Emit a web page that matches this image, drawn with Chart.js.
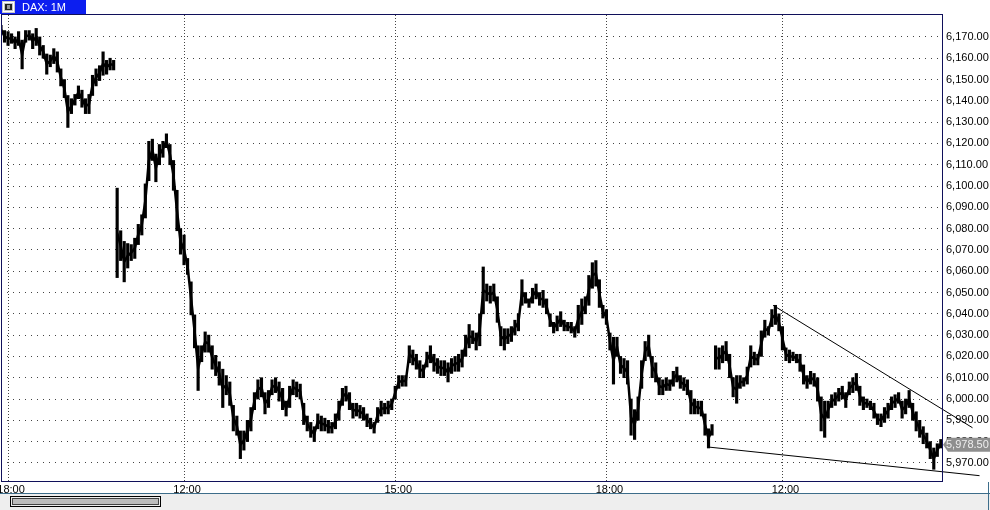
<!DOCTYPE html>
<html>
<head>
<meta charset="utf-8">
<script src="https://cdn.jsdelivr.net/npm/chart.js@4.4.0/dist/chart.umd.min.js"></script>
<style>
html,body{margin:0;padding:0;background:#fff;overflow:hidden}
canvas{display:block}
</style>
</head>
<body>
<canvas id="chart" width="990" height="510"></canvas>
<script>
// DAX 1 minute, sampled every 3 minutes as low/high ranges
var title = "DAX: 1M"
var firstBar = -2      // first sample index (x = index * barStep minutes after 18:00)
var barStep = 3

var highs = [
  // evening session
  6175.5,6173,6172.5,6171.5,6170,6172.5,6168.5,6173,6173,6171.5,6174,6170,6166,6162,6161.5,6164.5,6163,
  6155,6150,6142.5,6141,6143,6147,6145,6141,6143,6152,6155,6156.5,6163,6159,6160,6159,
  // next day
  6099,6079,6074,6073,6072.5,6075.5,6082,6086.5,6101,6121,6122,6115,6119.5,6121,6124.5,6119.5,6112,6098,
  6080,6077,6066,6055,6039.5,6025,6025,6031.5,6030,6025,6020.5,6017.5,6014,6011,6008,5997,5992,5985,5985,
  5990,5996,6003,6009,6010,6003,6004,6009,6010,6008,6005,5999,6006,6009,6008,6007,5998,5992,5989,5987,
  5993,5992,5991,5990,5989,5993,5999,6005,6006,6003,5998,5998,5997,5996,5993,5991,5989,5996,5999,5998,
  5999,6000,6006,6011,6011,6011,6025,6023,6021,6018,6016,6022,6025,6021,6019,6018,6018,6017,6019,6020,
  6021,6023,6030,6035,6032,6031,6040,6062,6054,6053,6054,6048,6034,6033,6033,6034,6037,6040,6056,6050,
  6047,6052,6054,6050,6051,6047,6040,6036,6039,6041,6037,6036,6036,6034,6044,6047,6048,6058,6064,6065,
  6056,6044,6042,6031,6029,6029,6020,6019,6018,6000,5995,6001,6018,6027,6030,6020,6017,6010,6009,6010,
  6009,6013,6015,6011,6010,6009,6004,6000,5999,5999,5993,5986,5988,
  // last day
  6025,6024,6025,6027,6021,6010,6011,6011,6010,6015,6025,6022,6021,6032,6037,6034,6042,6044,6040,6034,
  6024,6023,6022,6021,6021,6016,6011,6013,6012,6010,6001,5999,5999,6002,6003,6005,6006,6003,6008,6010,
  6012,6006,6001,6000,5999,5998,5993,5993,5996,5998,6001,6002,6003,5999,6000,6004,5998,5994,5990,5987,
  5984,5980,5977,5979,5981
]
var lows = [
  6171.5,6167.5,6166,6167,6164.5,6166,6155,6167.5,6168.5,6164.5,6166,6161.5,6160,6152.5,6156,6157.5,6153.5,
  6147,6141.5,6127.5,6134,6138,6141,6137,6134,6134,6142.5,6147,6149.5,6152,6152.5,6154.5,6154.5,
  6057,6065,6055,6061.5,6065,6066,6072.5,6077,6085,6102.5,6112,6102,6110,6113.5,6118,6110,6098,6079,
  6068,6063,6058.5,6039.5,6024,6004,6017.5,6022,6022,6014,6011,6006.5,5996,6002,5997,5985,5983,5972,5976,
  5980,5985,5995,6000,6001,5993,5996,6002,6003,5999,5995,5992,5996,6002,6001,6000,5988,5985,5982,5980,
  5986,5985,5985,5984,5984,5986,5990,5997,5999,5995,5991,5992,5991,5990,5987,5986,5984,5989,5992,5993,
  5993,5995,6000,6005,6006,6006,6017,6016,6014,6010,6010,6015,6017,6013,6012,6011,6011,6008,6012,6013,
  6013,6015,6020,6024,6026,6023,6025,6040,6046,6045,6046,6036,6025,6023,6026,6027,6030,6032,6044,6045,
  6043,6045,6047,6044,6043,6040,6034,6031,6032,6034,6032,6032,6031,6029,6031,6035,6040,6044,6052,6053,
  6043,6038,6035,6023,6007,6020,6012,6010,6007,5983,5981,5990,6005,6018,6020,6010,6008,6002,6002,6004,
  6004,6006,6008,6005,6004,6002,5993,5993,5993,5992,5983,5977,5983,
  6014,6014,6017,6018,6010,6001,5998,6005,6006,6007,6015,6016,6016,6020,6029,6030,6034,6035,6032,6023,
  6018,6017,6018,6017,6013,6007,6005,6007,6006,5999,5985,5982,5991,5996,5997,5999,6000,5996,6002,6003,
  6004,5997,5995,5996,5995,5991,5988,5987,5989,5991,5995,5996,5998,5991,5993,5996,5990,5985,5982,5979,
  5977,5972,5967,5973,5977
]
// where a new session opens (sample index), the price line is broken there
var sessionOpens = [31, 201]

var tickMinutes = [0, 150, 330, 510, 660]
var tickLabels = ["18:00", "12:00", "15:00", "18:00", "12:00"]
var priceTicks = [5970,5980,5990,6000,6010,6020,6030,6040,6050,6060,6070,6080,6090,6100,6110,6120,6130,6140,6150,6160,6170]

// hand drawn trend lines (minutes, price)
var upperLine = [{x: 652, y: 6044}, {x: 822, y: 5986.5}]
var lowerLine = [{x: 596, y: 5977.5}, {x: 828, y: 5964}]
var lastPrice = 5978.5

var bars = []
var mids = []
lows.forEach(function(lo, i){
  var idx = firstBar + i
  if(sessionOpens.includes(idx)) mids.push({x: idx * barStep - 1, y: null})
  bars.push({x: idx * barStep, y: [lo, highs[i]]})
  mids.push({x: idx * barStep, y: (lo + highs[i]) / 2})
})

function fmt(v){
  return v.toLocaleString("en-US", {minimumFractionDigits: 2, maximumFractionDigits: 2})
}

var frame = {
  id: "frame",
  beforeDraw: function(chart){
    var ctx = chart.ctx
    ctx.save()
    ctx.fillStyle = "#fff"
    ctx.fillRect(0, 0, 990, 510)
    // title tab
    ctx.fillStyle = "#0c1ef0"
    ctx.fillRect(0, 0, 86, 14)
    ctx.fillStyle = "#c8c8c8"
    ctx.fillRect(2, 1, 13, 12)
    ctx.strokeStyle = "#fff"
    ctx.strokeRect(3.5, 2.5, 10, 9)
    ctx.fillStyle = "#222"
    ctx.fillRect(5, 4, 7, 6)
    ctx.fillStyle = "#999"
    ctx.fillRect(7, 5, 3, 4)
    ctx.fillStyle = "#fff"
    ctx.font = "11px 'Liberation Sans'"
    ctx.textBaseline = "middle"
    ctx.fillText(title, 22, 7.5)
    // scroll bar strip
    ctx.fillStyle = "#eeeeee"
    ctx.fillRect(0, 494, 990, 16)
    ctx.strokeStyle = "#3d6d8a"
    ctx.beginPath()
    ctx.moveTo(0, 493.5); ctx.lineTo(990, 493.5)
    ctx.moveTo(988.5, 482); ctx.lineTo(988.5, 510)
    ctx.stroke()
    ctx.strokeStyle = "#000"
    ctx.strokeRect(10.5, 496.5, 150, 10)
    ctx.fillStyle = "#bdbdbd"
    ctx.fillRect(12, 498, 147, 7)
    ctx.strokeStyle = "#444"
    ctx.strokeRect(12.5, 498.5, 146, 6)
    ctx.restore()
  },
  afterDraw: function(chart){
    var ctx = chart.ctx
    var a = chart.chartArea
    var y = chart.scales.y.getPixelForValue(lastPrice)
    ctx.save()
    ctx.strokeStyle = "#10105a"
    ctx.lineWidth = 1
    ctx.strokeRect(a.left + 0.5, a.top - 0.5, a.right - a.left, a.bottom - a.top + 1)
    // last price marker
    ctx.fillStyle = "#8e8e8e"
    ctx.beginPath()
    ctx.moveTo(943, y)
    ctx.lineTo(948, y - 7)
    ctx.lineTo(990, y - 7)
    ctx.lineTo(990, y + 7)
    ctx.lineTo(948, y + 7)
    ctx.closePath()
    ctx.fill()
    ctx.fillStyle = "#eeeeee"
    ctx.font = "11px 'Liberation Sans'"
    ctx.textBaseline = "middle"
    ctx.fillText(fmt(lastPrice), 946, y + 0.5)
    ctx.restore()
  }
}

Chart.defaults.font.family = "'Liberation Sans', Arial, sans-serif"
Chart.defaults.font.size = 11
Chart.defaults.color = "#000"

new Chart(document.getElementById("chart"), {
  type: "bar",
  data: {
    datasets: [
      {type: "line", data: upperLine, borderColor: "#000", borderWidth: 1, pointRadius: 0, clip: false, order: 0},
      {type: "line", data: lowerLine, borderColor: "#000", borderWidth: 1, pointRadius: 0, clip: false, order: 0},
      {type: "line", data: mids, borderColor: "#000", borderWidth: 2.5, pointRadius: 0, spanGaps: false, order: 1},
      {data: bars, backgroundColor: "#000", borderWidth: 0, barThickness: 2.5, order: 2}
    ]
  },
  options: {
    responsive: false,
    animation: false,
    devicePixelRatio: 1,
    events: [],
    layout: {padding: {left: 1, top: 15, right: 0, bottom: 0}},
    plugins: {legend: {display: false}, tooltip: {enabled: false}},
    scales: {
      x: {
        type: "linear",
        min: -6, max: 796,
        offset: false,
        grid: {offset: false, color: "#444", drawTicks: false, lineWidth: 1},
        border: {display: false, dash: [1, 2]},
        ticks: {autoSkip: false, maxRotation: 0, padding: 2, labelOffset: 3,
          callback: function(v, i){ return tickLabels[i] }},
        afterBuildTicks: function(s){ s.ticks = tickMinutes.map(function(v){ return {value: v} }) },
        afterFit: function(s){ s.height = 29; s.paddingLeft = 0; s.paddingRight = 0 }
      },
      y: {
        position: "right",
        min: 5961.5, max: 6180.3,
        grid: {color: "#444", drawTicks: false, lineWidth: 1},
        border: {display: false, dash: [1, 5]},
        ticks: {padding: 4, callback: function(v){ return fmt(v) }},
        afterBuildTicks: function(s){ s.ticks = priceTicks.map(function(v){ return {value: v} }) },
        afterFit: function(s){ s.width = 48; s.paddingTop = 0; s.paddingBottom = 0 }
      }
    }
  },
  plugins: [frame]
})
</script>
</body>
</html>
